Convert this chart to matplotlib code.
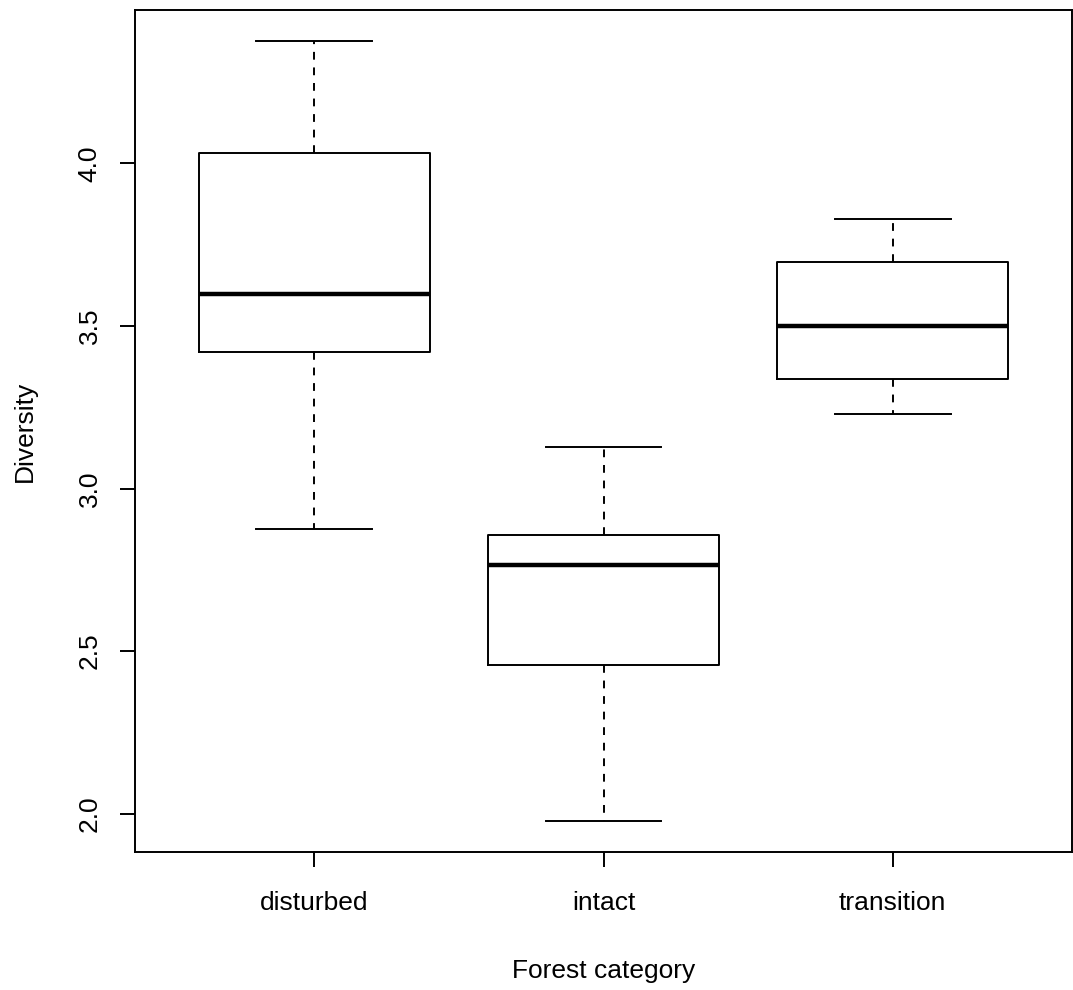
import numpy as np
import matplotlib
matplotlib.use("Agg")
from matplotlib import pyplot as plt

categories = ["disturbed", "intact", "transition"]
whisker_low = [2.877, 1.978, 3.228]
quartile_1 = [3.42, 2.457, 3.337]
medians = [3.599, 2.766, 3.5]
quartile_3 = [4.031, 2.858, 3.697]
whisker_high = [4.376, 3.129, 3.83]

plt.rcParams['font.family'] = ['Liberation Sans', 'DejaVu Sans']

fig = plt.figure(figsize=(10.73, 9.9), dpi=100)
ax = fig.add_axes([135 / 1073, 138 / 990, 937 / 1073, 842 / 990])

stats = []
for i, name in enumerate(categories):
    stats.append(dict(label=name, whislo=whisker_low[i], q1=quartile_1[i], med=medians[i],
                      q3=quartile_3[i], whishi=whisker_high[i], fliers=[]))

positions = np.arange(1, len(categories) + 1)
line_w = 1.4
ax.bxp(stats, positions=positions, widths=0.8, showfliers=False,
       boxprops=dict(color="black", linewidth=line_w),
       medianprops=dict(color="black", linewidth=3.2, solid_capstyle="butt"),
       whiskerprops=dict(color="black", linewidth=line_w, linestyle=(0, (4, 4))),
       capprops=dict(color="black", linewidth=line_w),
       capwidths=0.4)

# R-style 4% padding around the data range
lo, hi = min(whisker_low), max(whisker_high)
pad = 0.04 * (hi - lo)
ax.set_ylim(lo - pad, hi + pad)
ax.set_xlim(0.5 - 0.04 * 3, 3.5 + 0.04 * 3)

ax.set_yticks([2.0, 2.5, 3.0, 3.5, 4.0])
ax.set_yticklabels(["2.0", "2.5", "3.0", "3.5", "4.0"], rotation=90, va="center")
ax.set_xticks(positions)
ax.set_xticklabels(categories)

for s in ax.spines.values():
    s.set_linewidth(line_w)
ax.tick_params(axis="both", length=11, width=line_w, labelsize=19, direction="out")
ax.tick_params(axis="x", pad=17)
ax.tick_params(axis="y", pad=13)

ax.set_xlabel("Forest category", fontsize=19, va="baseline")
ax.xaxis.set_label_coords(0.5, (852 - 978) / 842)
ax.set_ylabel("Diversity", fontsize=19, va="center")
ax.yaxis.set_label_coords((25 - 135) / 937, 0.5)

fig.savefig("out.png", dpi=100, facecolor="white")
